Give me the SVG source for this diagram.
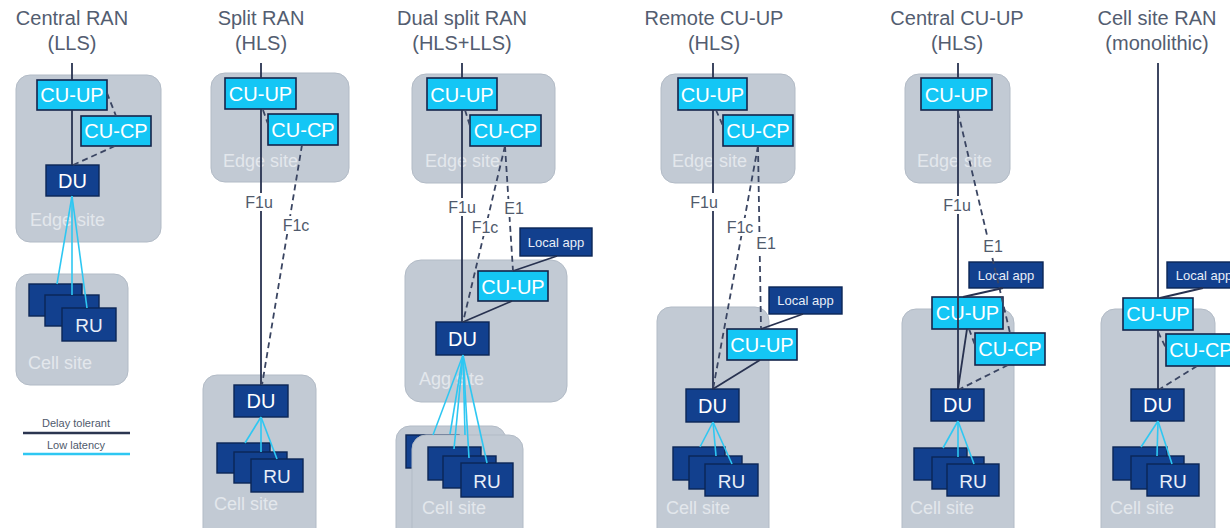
<svg xmlns="http://www.w3.org/2000/svg" width="1230" height="528" viewBox="0 0 1230 528">
<style>
text{font-family:"Liberation Sans",Arial,sans-serif}
.title{font-size:20px;fill:#535d70;text-anchor:middle}
.site{fill:#c2cad4;stroke:#b2bbc6;stroke-width:1}
.slbl{font-size:18px;fill:#e3e7ec}
.cu{fill:#14c6f5;stroke:#14244a;stroke-width:1.6}
.du{fill:#12408e;stroke:#0b2556;stroke-width:1.4}
.bt{font-size:20px;fill:#ffffff;text-anchor:middle}
.rt{font-size:19px;fill:#e8eef8;text-anchor:middle}
.at{font-size:13px;fill:#e8eef8;text-anchor:middle}
.ln{stroke:#283250;stroke-width:1.8;fill:none}
.ds{stroke:#3a4562;stroke-width:1.8;stroke-dasharray:6 4;fill:none}
.cy{stroke:#2ec7f2;stroke-width:1.6;fill:none}
.lb{font-size:16px;fill:#505a6c;text-anchor:middle}
.bg{fill:#ffffff}
.lg{font-size:11px;fill:#505a6c;text-anchor:middle}
</style>
<rect width="1230" height="528" fill="#ffffff"/>

<g id="titles">
<text class="title" x="72" y="25">Central RAN</text><text class="title" x="72" y="50">(LLS)</text>
<text class="title" x="261" y="25">Split RAN</text><text class="title" x="261" y="50">(HLS)</text>
<text class="title" x="462" y="25">Dual split RAN</text><text class="title" x="462" y="50">(HLS+LLS)</text>
<text class="title" x="714" y="25">Remote CU-UP</text><text class="title" x="714" y="50">(HLS)</text>
<text class="title" x="957" y="25">Central CU-UP</text><text class="title" x="957" y="50">(HLS)</text>
<text class="title" x="1157" y="25">Cell site RAN</text><text class="title" x="1157" y="50">(monolithic)</text>
</g>

<!-- Column 1 -->
<g id="c1-edge"><rect class="site" x="16" y="75" width="145" height="167" rx="14"/><text class="slbl" x="30" y="226">Edge site</text></g>
<g id="c1-cell"><rect class="site" x="16" y="274" width="112" height="111" rx="14"/><text class="slbl" x="28" y="369">Cell site</text></g>
<g id="c1-cuup"><rect class="cu" x="37" y="80" width="70" height="30"/><text class="bt" x="72" y="102">CU-UP</text></g>
<g id="c1-cucp"><rect class="cu" x="81" y="116" width="70" height="30"/><text class="bt" x="116" y="138">CU-CP</text></g>
<g id="c1-du"><rect class="du" x="46" y="165" width="53" height="31"/><text class="bt" x="72.5" y="188">DU</text></g>
<g id="c1-ru"><rect class="du" x="29" y="284" width="53" height="32"/>
<rect class="du" x="45" y="295" width="54" height="31"/>
<rect class="du" x="62" y="308" width="54" height="33"/><text class="rt" x="89" y="332">RU</text></g>
<g id="legend">
<text class="lg" x="76" y="427">Delay tolerant</text>
<line x1="23" y1="433" x2="130" y2="433" stroke="#2b3550" stroke-width="2.5"/>
<text class="lg" x="76" y="449">Low latency</text>
<line x1="23" y1="454" x2="130" y2="454" stroke="#2ec7f2" stroke-width="2.5"/>
</g>

<!-- Column 2 -->
<g id="c2-edge"><rect class="site" x="211" y="73" width="138" height="109" rx="14"/><text class="slbl" x="223" y="167">Edge site</text></g>
<g id="c2-cell"><rect class="site" x="203" y="375" width="113" height="170" rx="14"/><text class="slbl" x="214" y="510">Cell site</text></g>
<g id="c2-cuup"><rect class="cu" x="225" y="78" width="71" height="31"/><text class="bt" x="260.5" y="101">CU-UP</text></g>
<g id="c2-cucp"><rect class="cu" x="268" y="114" width="70" height="31"/><text class="bt" x="303" y="137">CU-CP</text></g>
<g id="c2-du"><rect class="du" x="234" y="385" width="54" height="32"/><text class="bt" x="261" y="408">DU</text></g>
<g id="c2-ru"><rect class="du" x="217" y="443" width="53" height="30"/>
<rect class="du" x="234" y="452" width="53" height="31"/>
<rect class="du" x="251" y="459" width="52" height="33"/><text class="rt" x="277" y="483">RU</text></g>

<!-- Column 3 -->
<g id="c3-edge"><rect class="site" x="412" y="74" width="143" height="109" rx="14"/><text class="slbl" x="425" y="167">Edge site</text></g>
<g id="c3-agg"><rect class="site" x="405" y="260" width="162" height="142" rx="16"/><text class="slbl" x="419" y="385">Agg site</text></g>
<g id="c3-cell-back"><rect class="site" x="396" y="426" width="110" height="120" rx="14"/><rect class="du" x="406" y="435" width="53" height="33"/></g>
<g id="c3-cell"><rect class="site" x="412" y="435" width="111" height="110" rx="14"/><text class="slbl" x="422" y="514">Cell site</text></g>
<g id="c3-cuup"><rect class="cu" x="427" y="78" width="70" height="32"/><text class="bt" x="462" y="102">CU-UP</text></g>
<g id="c3-cucp"><rect class="cu" x="470" y="115" width="71" height="31"/><text class="bt" x="505.5" y="138">CU-CP</text></g>
<g id="c3-app"><rect class="du" x="520" y="228" width="72" height="28"/><text class="at" x="556" y="247">Local app</text></g>
<g id="c3-cuup2"><rect class="cu" x="478" y="271" width="70" height="30"/><text class="bt" x="513" y="294">CU-UP</text></g>
<g id="c3-du"><rect class="du" x="436" y="322" width="53" height="33"/><text class="bt" x="462.5" y="346">DU</text></g>
<g id="c3-ru"><rect class="du" x="428" y="447" width="53" height="33"/>
<rect class="du" x="443" y="456" width="53" height="32"/>
<rect class="du" x="461" y="463" width="52" height="34"/><text class="rt" x="487" y="488">RU</text></g>

<!-- Column 4 -->
<g id="c4-edge"><rect class="site" x="661" y="74" width="134" height="109" rx="14"/><text class="slbl" x="672" y="167">Edge site</text></g>
<g id="c4-cell"><rect class="site" x="657" y="307" width="112" height="240" rx="14"/><text class="slbl" x="666" y="514">Cell site</text></g>
<g id="c4-cuup"><rect class="cu" x="678" y="78" width="69" height="32"/><text class="bt" x="712.5" y="102">CU-UP</text></g>
<g id="c4-cucp"><rect class="cu" x="723" y="115" width="70" height="31"/><text class="bt" x="758" y="138">CU-CP</text></g>
<g id="c4-app"><rect class="du" x="769" y="287" width="73" height="27"/><text class="at" x="805.5" y="305">Local app</text></g>
<g id="c4-cuup2"><rect class="cu" x="727" y="329" width="70" height="31"/><text class="bt" x="762" y="352">CU-UP</text></g>
<g id="c4-du"><rect class="du" x="686" y="389" width="53" height="33"/><text class="bt" x="712.5" y="413">DU</text></g>
<g id="c4-ru"><rect class="du" x="673" y="447" width="52" height="33"/>
<rect class="du" x="689" y="456" width="53" height="33"/>
<rect class="du" x="705" y="464" width="53" height="32"/><text class="rt" x="731.5" y="488">RU</text></g>

<!-- Column 5 -->
<g id="c5-edge"><rect class="site" x="905" y="74" width="105" height="109" rx="14"/><text class="slbl" x="917" y="167">Edge site</text></g>
<g id="c5-cell"><rect class="site" x="902" y="309" width="112" height="238" rx="14"/><text class="slbl" x="910" y="514">Cell site</text></g>
<g id="c5-cuup"><rect class="cu" x="921" y="78" width="71" height="32"/><text class="bt" x="956.5" y="102">CU-UP</text></g>
<g id="c5-app"><rect class="du" x="969" y="262" width="74" height="26"/><text class="at" x="1006" y="280">Local app</text></g>
<g id="c5-cuup2"><rect class="cu" x="932" y="297" width="71" height="32"/><text class="bt" x="967.5" y="320">CU-UP</text></g>
<g id="c5-cucp"><rect class="cu" x="975" y="333" width="70" height="32"/><text class="bt" x="1010" y="356">CU-CP</text></g>
<g id="c5-du"><rect class="du" x="931" y="389" width="53" height="32"/><text class="bt" x="957.5" y="412">DU</text></g>
<g id="c5-ru"><rect class="du" x="914" y="448" width="53" height="32"/>
<rect class="du" x="932" y="457" width="52" height="32"/>
<rect class="du" x="947" y="464" width="52" height="32"/><text class="rt" x="973" y="488">RU</text></g>

<!-- Column 6 -->
<g id="c6-cell"><rect class="site" x="1101" y="309" width="114" height="238" rx="14"/><text class="slbl" x="1110" y="514">Cell site</text></g>
<g id="c6-app"><rect class="du" x="1167" y="262" width="74" height="26"/><text class="at" x="1204" y="280">Local app</text></g>
<g id="c6-cuup"><rect class="cu" x="1123" y="298" width="70" height="32"/><text class="bt" x="1158" y="321">CU-UP</text></g>
<g id="c6-cucp"><rect class="cu" x="1166" y="334" width="70" height="32"/><text class="bt" x="1201" y="357">CU-CP</text></g>
<g id="c6-du"><rect class="du" x="1131" y="389" width="53" height="32"/><text class="bt" x="1157.5" y="412">DU</text></g>
<g id="c6-ru"><rect class="du" x="1113" y="447" width="54" height="33"/>
<rect class="du" x="1131" y="456" width="53" height="33"/>
<rect class="du" x="1147" y="464" width="52" height="32"/><text class="rt" x="1173" y="488">RU</text></g>

<g id="connectors">
<!-- col1 -->
<line class="ln" x1="72" y1="63" x2="72" y2="80"/>
<line class="ln" x1="72" y1="110" x2="72" y2="165"/>
<line class="ds" x1="107" y1="93" x2="116" y2="116"/>
<line class="ds" x1="115" y1="146" x2="73" y2="165"/>
<line class="cy" x1="72" y1="196" x2="57" y2="284"/>
<line class="cy" x1="72" y1="196" x2="72" y2="295"/>
<line class="cy" x1="72" y1="196" x2="87" y2="308"/>
<!-- col2 -->
<line class="ln" x1="261" y1="63" x2="261" y2="78"/>
<line class="ln" x1="261" y1="109" x2="261" y2="385"/>
<line class="ds" x1="263" y1="110" x2="268" y2="124"/>
<line class="ds" x1="302" y1="145" x2="262" y2="385"/>
<line class="cy" x1="261" y1="417" x2="245" y2="443"/>
<line class="cy" x1="261" y1="417" x2="261" y2="452"/>
<line class="cy" x1="261" y1="417" x2="277" y2="459"/>
<rect class="bg" x="245" y="193" width="29" height="18"/><text class="lb" x="259" y="208">F1u</text>
<rect class="bg" x="282" y="216" width="28" height="18"/><text class="lb" x="296" y="231">F1c</text>
<!-- col3 -->
<line class="ln" x1="462" y1="63" x2="462" y2="78"/>
<line class="ln" x1="462" y1="110" x2="462" y2="322"/>
<line class="ds" x1="465" y1="110" x2="470" y2="126"/>
<line class="ds" x1="505" y1="146" x2="463" y2="322"/>
<line class="ds" x1="505" y1="146" x2="513" y2="271"/>
<line class="ln" x1="557" y1="256" x2="513" y2="271"/>
<line class="ln" x1="512" y1="301" x2="463" y2="322"/>
<line class="cy" x1="463" y1="355" x2="433" y2="435"/>
<line class="cy" x1="463" y1="355" x2="450" y2="434"/>
<line class="cy" x1="463" y1="355" x2="454" y2="449"/>
<line class="cy" x1="463" y1="355" x2="465" y2="435"/>
<line class="cy" x1="463" y1="355" x2="469" y2="458"/>
<line class="cy" x1="463" y1="355" x2="487" y2="463"/>
<rect class="bg" x="448" y="198" width="29" height="18"/><text class="lb" x="462" y="213">F1u</text>
<rect class="bg" x="471" y="218" width="28" height="18"/><text class="lb" x="485" y="233">F1c</text>
<rect class="bg" x="504" y="199" width="20" height="18"/><text class="lb" x="514" y="214">E1</text>
<!-- col4 -->
<line class="ln" x1="713" y1="63" x2="713" y2="78"/>
<line class="ln" x1="713" y1="110" x2="713" y2="389"/>
<line class="ds" x1="716" y1="110" x2="723" y2="126"/>
<line class="ds" x1="758" y1="146" x2="713" y2="389"/>
<line class="ds" x1="758" y1="146" x2="761" y2="329"/>
<line class="ln" x1="803" y1="314" x2="761" y2="329"/>
<line class="ln" x1="760" y1="360" x2="713" y2="389"/>
<line class="cy" x1="713" y1="422" x2="700" y2="447"/>
<line class="cy" x1="713" y1="422" x2="716" y2="456"/>
<line class="cy" x1="713" y1="422" x2="732" y2="464"/>
<rect class="bg" x="690" y="193" width="29" height="18"/><text class="lb" x="704" y="208">F1u</text>
<rect class="bg" x="726" y="218" width="28" height="18"/><text class="lb" x="740" y="233">F1c</text>
<rect class="bg" x="756" y="234" width="20" height="18"/><text class="lb" x="766" y="249">E1</text>
<!-- col5 -->
<line class="ln" x1="958" y1="63" x2="958" y2="78"/>
<line class="ln" x1="958" y1="110" x2="958" y2="389"/>
<line class="ds" x1="958" y1="112" x2="1010" y2="333"/>
<line class="ds" x1="969" y1="329" x2="975" y2="345"/>
<line class="ln" x1="967" y1="329" x2="958" y2="389"/>
<line class="ds" x1="1008" y1="365" x2="960" y2="389"/>
<line class="ln" x1="1003" y1="288" x2="963" y2="297"/>
<line class="cy" x1="958" y1="421" x2="943" y2="448"/>
<line class="cy" x1="958" y1="421" x2="958" y2="457"/>
<line class="cy" x1="958" y1="421" x2="974" y2="464"/>
<rect class="bg" x="943" y="196" width="29" height="18"/><text class="lb" x="957" y="211">F1u</text>
<rect class="bg" x="983" y="237" width="20" height="18"/><text class="lb" x="993" y="252">E1</text>
<!-- col6 -->
<line class="ln" x1="1158" y1="63" x2="1158" y2="298"/>
<line class="ln" x1="1158" y1="330" x2="1158" y2="389"/>
<line class="ln" x1="1203" y1="288" x2="1160" y2="298"/>
<line class="ds" x1="1158" y1="332" x2="1167" y2="350"/>
<line class="ds" x1="1197" y1="366" x2="1160" y2="389"/>
<line class="cy" x1="1158" y1="421" x2="1141" y2="447"/>
<line class="cy" x1="1158" y1="421" x2="1157" y2="456"/>
<line class="cy" x1="1158" y1="421" x2="1172" y2="464"/>
</g>
</svg>
